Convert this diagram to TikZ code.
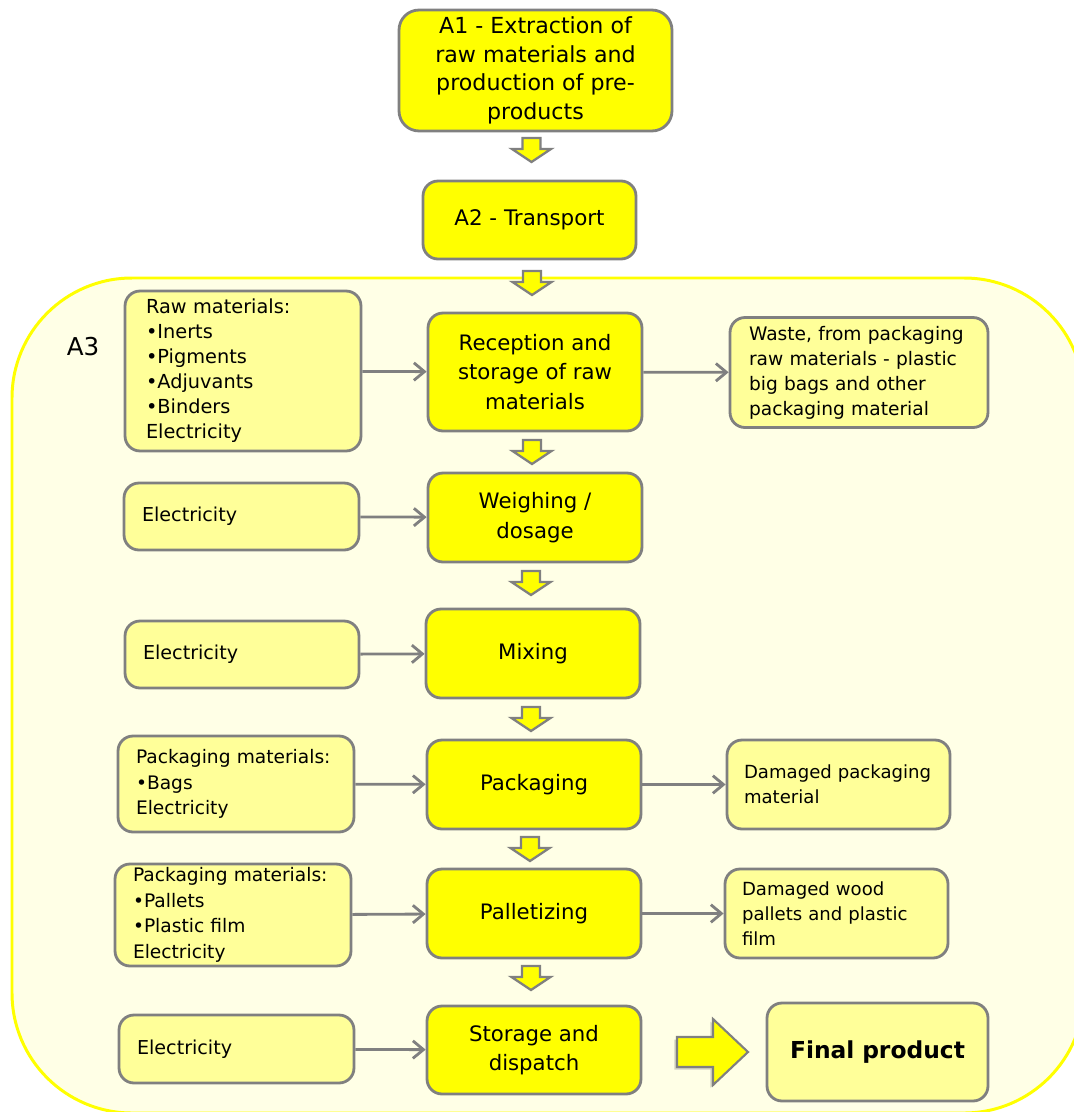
\documentclass[tikz,border=0pt]{standalone}
\usepackage{fontspec}
\setmainfont{DejaVu Sans}
\usetikzlibrary{arrows.meta,shadows}

\definecolor{boxgray}{HTML}{808080}
\definecolor{stageyellow}{HTML}{FFFF00}
\definecolor{lightyellow}{HTML}{FFFF99}
\definecolor{a3fill}{HTML}{FFFFE6}

\hyphenpenalty=10000
\exhyphenpenalty=10000

\tikzset{
  stage/.style={draw=boxgray, line width=1.6pt, fill=stageyellow, rounded corners=0.3cm,
    align=center, inner sep=0pt, minimum width=4.28cm, minimum height=1.78cm,
    font=\fontsize{12.1}{16.7}\selectfont},
  inbox/.style={draw=boxgray, line width=1.6pt, fill=lightyellow, rounded corners=0.3cm,
    align=left, inner xsep=0.36cm, inner ysep=0pt,
    font=\fontsize{10.6}{14.2}\selectfont},
  flow/.style={draw=boxgray, line width=1.6pt, -{Straight Barb[length=6pt,width=10pt]}},
  downblock/.style={draw=boxgray, line width=1.3pt, fill=stageyellow, line join=miter},
  a3frame/.style={draw=stageyellow, line width=1.7pt, fill=a3fill, rounded corners=2.4cm}
}

\begin{document}
\begin{tikzpicture}[x=0.02cm,y=-0.02cm]
\useasboundingbox (0,0) rectangle (1074,1112);
\clip (0,0) rectangle (1074,1112);

% A3 frame
\draw[a3frame] (12,278) rectangle (1084,1113);
\node[font=\fontsize{14}{16}\selectfont] (a3) at (83,347) {A3};

% main stages
\node[stage, minimum width=5.46cm, minimum height=2.42cm, rounded corners=0.4cm,
  font=\fontsize{12.6}{16.3}\selectfont] (a1) at (535.5,70.5)
  {A1 - Extraction of\\raw materials and\\production of pre-\\products};
\node[stage, minimum width=4.26cm, minimum height=1.56cm,
  font=\fontsize{12.2}{16}\selectfont] (a2) at (529.5,220) {A2 - Transport};
\node[stage, minimum height=2.36cm] (rec) at (535,372) {Reception and\\storage of raw\\materials};
\node[stage] (weigh) at (535,517.5) {Weighing /\\dosage};
\node[stage] (mix) at (533,653.5) {Mixing};
\node[stage] (pack) at (534,784.5) {Packaging};
\node[stage] (pall) at (534,913.5) {Palletizing};
\node[stage, minimum height=1.76cm] (store) at (534,1050) {Storage and\\dispatch};

% inputs
\node[inbox, inner xsep=0.42cm, text width=3.88cm, minimum height=3.2cm,
  font=\fontsize{11}{14.2}\selectfont] (raw) at (243,371)
  {Raw materials:\\•Inerts\\•Pigments\\•Adjuvants\\•Binders\\Electricity};
\node[inbox, text width=3.98cm, minimum height=1.34cm,
  font=\fontsize{10.9}{14}\selectfont] (elec1) at (241.5,516.5) {Electricity};
\node[inbox, text width=3.96cm, minimum height=1.34cm,
  font=\fontsize{10.9}{14}\selectfont] (elec2) at (242,654.5) {Electricity};
\node[inbox, text width=4.0cm, minimum height=1.92cm,
  font=\fontsize{10.6}{14.5}\selectfont] (packmat) at (236,784)
  {Packaging materials:\\•Bags\\Electricity};
\node[inbox, text width=4.0cm, minimum height=2.04cm,
  font=\fontsize{10.6}{14.5}\selectfont] (palmat) at (233,915)
  {Packaging materials:\\•Pallets\\•Plastic film\\Electricity};
\node[inbox, text width=3.98cm, minimum height=1.36cm,
  font=\fontsize{10.9}{14}\selectfont] (elec3) at (236.5,1049) {Electricity};

% outputs
\node[inbox, inner xsep=0.38cm, text width=4.40cm, minimum height=2.2cm] (waste) at (859,372.5)
  {Waste, from packaging\\raw materials - plastic\\big bags and other\\packaging material};
\node[inbox, text width=3.78cm, inner xsep=0.34cm, minimum height=1.78cm,
  font=\fontsize{10.3}{14.2}\selectfont] (dampack) at (838.5,784.5)
  {Damaged packaging\\material};
\node[inbox, text width=3.78cm, inner xsep=0.34cm, minimum height=1.78cm,
  font=\fontsize{10.3}{14.2}\selectfont] (damwood) at (836.5,913.5)
  {Damaged wood\\pallets and plastic\\film};
\node[inbox, align=center, text width=4.42cm, inner xsep=0pt, minimum height=1.96cm,
  font=\fontsize{13.3}{16}\selectfont\bfseries] (final) at (877.5,1052) {Final product};

% connectors
\draw[flow] (raw) -- (rec);
\draw[flow] (rec) -- (waste);
\draw[flow] (elec1) -- (weigh);
\draw[flow] (elec2) -- (mix);
\draw[flow] (packmat) -- (pack);
\draw[flow] (pack) -- (dampack);
\draw[flow] (palmat) -- (pall);
\draw[flow] (pall) -- (damwood);
\draw[flow] (elec3) -- (store);

% block arrows down
\foreach \x/\y in {531.5/138, 532/271, 532/440, 531/571, 531/707, 530/837, 531/966}
  \draw[downblock] (\x-9,\y) -- ++(18,0) -- ++(0,11) -- ++(10.5,0) -- (\x,\y+24)
    -- ++(-19.5,-13) -- ++(10.5,0) -- cycle;

% big arrow to final product
\draw[draw=boxgray, line width=1.2pt, fill=stageyellow, line join=miter,
  drop shadow={shadow xshift=-1.5pt, shadow yshift=-1.5pt, opacity=0.35}]
  (677,1037) -- (713,1037) -- (713,1019) -- (748,1052) -- (713,1085) -- (713,1067)
  -- (677,1067) -- cycle;
\end{tikzpicture}
\end{document}
